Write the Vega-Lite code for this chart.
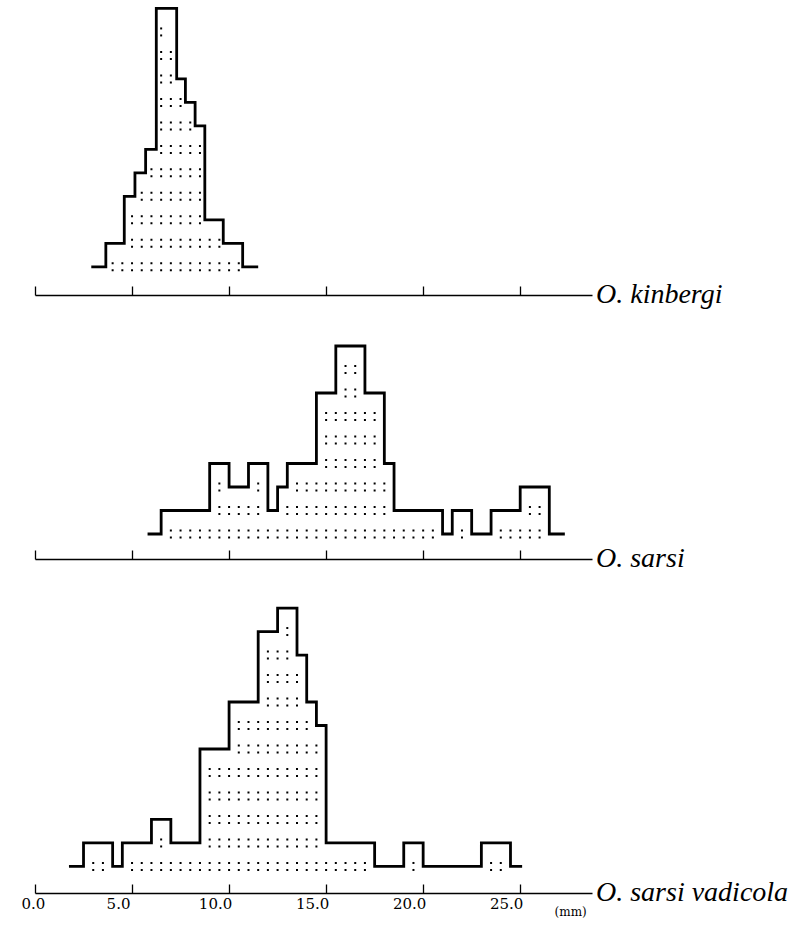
{
  "$schema": "https://vega.github.io/schema/vega-lite/v6.json",
  "background": "white",
  "padding": {"left": 21, "top": 0, "right": 0, "bottom": 0},
  "autosize": {"type": "pad"},
  "bounds": "flush",
  "spacing": 42,
  "config": {
    "view": {"stroke": null},
    "axis": {
      "tickSize": -9,
      "tickColor": "black",
      "tickWidth": 1.3,
      "domainColor": "black",
      "domainWidth": 1.6,
      "grid": false,
      "title": null
    }
  },
  "datasets": {
    "kinbergi": [
      {"mm": 2.9, "n": 1}, {"mm": 3.65, "n": 2}, {"mm": 4.6, "n": 4}, {"mm": 5.15, "n": 5},
      {"mm": 5.7, "n": 6}, {"mm": 6.25, "n": 12}, {"mm": 7.3, "n": 9}, {"mm": 7.75, "n": 8},
      {"mm": 8.25, "n": 7}, {"mm": 8.75, "n": 3}, {"mm": 9.7, "n": 2}, {"mm": 10.7, "n": 1},
      {"mm": 11.5, "n": 1}
    ],
    "kinbergi_dots": [
      {"level": 1, "from": 4.0, "to": 10.5}, {"level": 2, "from": 5.0, "to": 9.5},
      {"level": 3, "from": 5.0, "to": 8.5}, {"level": 4, "from": 5.5, "to": 8.5},
      {"level": 5, "from": 6.0, "to": 8.5}, {"level": 6, "from": 6.5, "to": 8.5},
      {"level": 7, "from": 6.5, "to": 8.0}, {"level": 8, "from": 6.5, "to": 7.5},
      {"level": 9, "from": 6.5, "to": 7.0}, {"level": 10, "from": 6.5, "to": 7.0},
      {"level": 11, "from": 6.5, "to": 6.5}
    ],
    "sarsi": [
      {"mm": 5.8, "n": 1}, {"mm": 6.5, "n": 2}, {"mm": 9.0, "n": 4}, {"mm": 10.0, "n": 3},
      {"mm": 11.0, "n": 4}, {"mm": 12.0, "n": 2}, {"mm": 12.5, "n": 3}, {"mm": 13.0, "n": 4},
      {"mm": 14.5, "n": 7}, {"mm": 15.5, "n": 9}, {"mm": 17.0, "n": 7}, {"mm": 18.0, "n": 4},
      {"mm": 18.5, "n": 2}, {"mm": 21.0, "n": 1}, {"mm": 21.5, "n": 2}, {"mm": 22.5, "n": 1},
      {"mm": 23.5, "n": 2}, {"mm": 25.0, "n": 3}, {"mm": 26.5, "n": 1}, {"mm": 27.3, "n": 1}
    ],
    "sarsi_dots": [
      {"level": 1, "from": 7.0, "to": 20.5}, {"level": 1, "from": 22.0, "to": 22.0},
      {"level": 1, "from": 24.0, "to": 26.0},
      {"level": 2, "from": 9.5, "to": 11.5}, {"level": 2, "from": 13.0, "to": 18.0},
      {"level": 2, "from": 25.5, "to": 26.0},
      {"level": 3, "from": 9.5, "to": 9.5}, {"level": 3, "from": 11.5, "to": 11.5},
      {"level": 3, "from": 13.5, "to": 18.0},
      {"level": 4, "from": 15.0, "to": 17.5}, {"level": 5, "from": 15.0, "to": 17.5},
      {"level": 6, "from": 15.0, "to": 17.5}, {"level": 7, "from": 16.0, "to": 16.5},
      {"level": 8, "from": 16.0, "to": 16.5}
    ],
    "vadicola": [
      {"mm": 1.75, "n": 1}, {"mm": 2.5, "n": 2}, {"mm": 4.0, "n": 1}, {"mm": 4.5, "n": 2},
      {"mm": 6.0, "n": 3}, {"mm": 7.0, "n": 2}, {"mm": 8.5, "n": 6}, {"mm": 10.0, "n": 8},
      {"mm": 11.5, "n": 11}, {"mm": 12.5, "n": 12}, {"mm": 13.5, "n": 10}, {"mm": 14.0, "n": 8},
      {"mm": 14.5, "n": 7}, {"mm": 15.0, "n": 2}, {"mm": 17.5, "n": 1}, {"mm": 19.0, "n": 2},
      {"mm": 20.0, "n": 1}, {"mm": 23.0, "n": 2}, {"mm": 24.5, "n": 1}, {"mm": 25.1, "n": 1}
    ],
    "vadicola_dots": [
      {"level": 1, "from": 3.0, "to": 3.5}, {"level": 1, "from": 5.0, "to": 17.0},
      {"level": 1, "from": 19.5, "to": 19.5}, {"level": 1, "from": 23.5, "to": 24.0},
      {"level": 2, "from": 6.5, "to": 6.5}, {"level": 2, "from": 9.0, "to": 14.5},
      {"level": 3, "from": 9.0, "to": 14.5}, {"level": 4, "from": 9.0, "to": 14.5},
      {"level": 5, "from": 9.0, "to": 14.5}, {"level": 6, "from": 10.5, "to": 14.5},
      {"level": 7, "from": 10.5, "to": 14.0}, {"level": 8, "from": 12.0, "to": 13.5},
      {"level": 9, "from": 12.0, "to": 13.5}, {"level": 10, "from": 12.0, "to": 13.0},
      {"level": 11, "from": 13.0, "to": 13.0}
    ]
  },
  "vconcat": [
    {
      "width": 557,
      "height": 295,
      "encoding": {
        "x": {"type": "quantitative", "scale": {"domain": [0, 28.7], "nice": false, "zero": false}, "axis": {"values": [0, 5, 10, 15, 20, 25], "labels": false}},
        "y": {"type": "quantitative", "scale": {"domain": [-0.2, 12.36], "nice": false, "zero": false}, "axis": null}
      },
      "layer": [
        {
          "data": {"name": "kinbergi_dots"},
          "mark": {"type": "rule", "color": "black", "strokeWidth": 2, "strokeDash": [2, 7.704], "strokeCap": "butt", "xOffset": -1, "x2Offset": 1.2, "yOffset": -3.5},
          "encoding": {"x": {"field": "from"}, "x2": {"field": "to"}, "y": {"field": "level"}}
        },
        {
          "data": {"name": "kinbergi_dots"},
          "mark": {"type": "rule", "color": "black", "strokeWidth": 2, "strokeDash": [2, 7.704], "strokeCap": "butt", "xOffset": -1, "x2Offset": 1.2, "yOffset": 3.5},
          "encoding": {"x": {"field": "from"}, "x2": {"field": "to"}, "y": {"field": "level"}}
        },
        {
          "data": {"name": "kinbergi"},
          "mark": {"type": "line", "interpolate": "step-after", "color": "black", "strokeWidth": 2.8},
          "encoding": {"x": {"field": "mm"}, "y": {"field": "n"}}
        },
        {
          "data": {"values": [{"label": "O. kinbergi"}]},
          "mark": {"type": "text", "align": "left", "baseline": "middle", "font": "Liberation Serif", "fontStyle": "italic", "fontSize": 28, "dx": 4, "color": "black"},
          "encoding": {"x": {"datum": 28.7}, "y": {"datum": -0.2}, "text": {"field": "label"}}
        }
      ]
    },
    {
      "width": 557,
      "height": 222,
      "encoding": {
        "x": {"type": "quantitative", "scale": {"domain": [0, 28.7], "nice": false, "zero": false}, "axis": {"values": [0, 5, 10, 15, 20, 25], "labels": false}},
        "y": {"type": "quantitative", "scale": {"domain": [-0.064, 9.383], "nice": false, "zero": false}, "axis": null}
      },
      "layer": [
        {
          "data": {"name": "sarsi_dots"},
          "mark": {"type": "rule", "color": "black", "strokeWidth": 2, "strokeDash": [2, 7.704], "strokeCap": "butt", "xOffset": -1, "x2Offset": 1.2, "yOffset": -3.5},
          "encoding": {"x": {"field": "from"}, "x2": {"field": "to"}, "y": {"field": "level"}}
        },
        {
          "data": {"name": "sarsi_dots"},
          "mark": {"type": "rule", "color": "black", "strokeWidth": 2, "strokeDash": [2, 7.704], "strokeCap": "butt", "xOffset": -1, "x2Offset": 1.2, "yOffset": 3.5},
          "encoding": {"x": {"field": "from"}, "x2": {"field": "to"}, "y": {"field": "level"}}
        },
        {
          "data": {"name": "sarsi"},
          "mark": {"type": "line", "interpolate": "step-after", "color": "black", "strokeWidth": 2.8},
          "encoding": {"x": {"field": "mm"}, "y": {"field": "n"}}
        },
        {
          "data": {"values": [{"label": "O. sarsi"}]},
          "mark": {"type": "text", "align": "left", "baseline": "middle", "font": "Liberation Serif", "fontStyle": "italic", "fontSize": 28, "dx": 4, "color": "black"},
          "encoding": {"x": {"datum": 28.7}, "y": {"datum": -0.064}, "text": {"field": "label"}}
        }
      ]
    },
    {
      "width": 557,
      "height": 292,
      "encoding": {
        "x": {
          "type": "quantitative",
          "scale": {"domain": [0, 28.7], "nice": false, "zero": false},
          "axis": {"values": [0, 5, 10, 15, 20, 25], "labels": true, "format": ".1f", "labelFont": "DejaVu Serif", "labelFontSize": 15, "labelColor": "black", "labelPadding": 12, "labelOffset": -14}
        },
        "y": {"type": "quantitative", "scale": {"domain": [-0.13, 12.3], "nice": false, "zero": false}, "axis": null}
      },
      "layer": [
        {
          "data": {"name": "vadicola_dots"},
          "mark": {"type": "rule", "color": "black", "strokeWidth": 2, "strokeDash": [2, 7.704], "strokeCap": "butt", "xOffset": -1, "x2Offset": 1.2, "yOffset": -3.5},
          "encoding": {"x": {"field": "from"}, "x2": {"field": "to"}, "y": {"field": "level"}}
        },
        {
          "data": {"name": "vadicola_dots"},
          "mark": {"type": "rule", "color": "black", "strokeWidth": 2, "strokeDash": [2, 7.704], "strokeCap": "butt", "xOffset": -1, "x2Offset": 1.2, "yOffset": 3.5},
          "encoding": {"x": {"field": "from"}, "x2": {"field": "to"}, "y": {"field": "level"}}
        },
        {
          "data": {"name": "vadicola"},
          "mark": {"type": "line", "interpolate": "step-after", "color": "black", "strokeWidth": 2.8},
          "encoding": {"x": {"field": "mm"}, "y": {"field": "n"}}
        },
        {
          "data": {"values": [{"label": "O. sarsi vadicola"}]},
          "mark": {"type": "text", "align": "left", "baseline": "middle", "font": "Liberation Serif", "fontStyle": "italic", "fontSize": 28, "dx": 4, "color": "black"},
          "encoding": {"x": {"datum": 28.7}, "y": {"datum": -0.13}, "text": {"field": "label"}}
        },
        {
          "data": {"values": [{"unit": "(mm)"}]},
          "mark": {"type": "text", "align": "center", "baseline": "middle", "font": "DejaVu Serif", "fontSize": 12, "color": "black"},
          "encoding": {"x": {"datum": 27.6}, "y": {"datum": -0.95}, "text": {"field": "unit"}}
        }
      ]
    }
  ]
}
